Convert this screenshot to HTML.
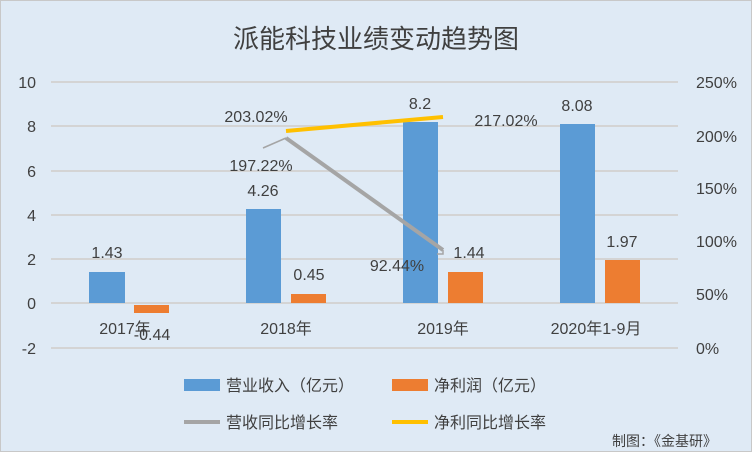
<!DOCTYPE html>
<html><head><meta charset="utf-8"><style>
body{margin:0;background:#fff}
svg{display:block}
text{font-family:"Liberation Sans","Noto Sans CJK SC",sans-serif;fill:#404040}
</style></head><body>
<svg width="752" height="452" viewBox="0 0 752 452">
<rect x="0.5" y="0.5" width="751" height="451" fill="#dfeaf5" stroke="#c8c8c8"/>
<text x="376" y="48" font-size="26" text-anchor="middle" fill="#595959">派能科技业绩变动趋势图</text>
<g stroke="#d4d4d4" stroke-width="2">
<line x1="51" y1="82" x2="678" y2="82"/><line x1="51" y1="126" x2="678" y2="126"/>
<line x1="51" y1="171" x2="678" y2="171"/><line x1="51" y1="215" x2="678" y2="215"/>
<line x1="51" y1="259" x2="678" y2="259"/><line x1="51" y1="303" x2="678" y2="303"/>
<line x1="51" y1="348" x2="678" y2="348"/>
</g>
<g font-size="16" text-anchor="end" fill="#595959">
<text x="36" y="88">10</text><text x="36" y="132">8</text><text x="36" y="177">6</text>
<text x="36" y="221">4</text><text x="36" y="265">2</text><text x="36" y="309">0</text><text x="36" y="354">-2</text>
</g>
<g font-size="16" text-anchor="start">
<text x="696" y="88">250%</text><text x="696" y="142">200%</text><text x="696" y="194">150%</text>
<text x="696" y="247">100%</text><text x="696" y="300">50%</text><text x="696" y="354">0%</text>
</g>
<g fill="#5b9bd5">
<rect x="89" y="272" width="36" height="31"/><rect x="246" y="209" width="35" height="94"/>
<rect x="403" y="122" width="35" height="181"/><rect x="560" y="124" width="35" height="179"/>
</g>
<g fill="#ed7d31">
<rect x="134" y="305" width="35" height="8"/><rect x="291" y="294" width="35" height="9"/>
<rect x="448" y="272" width="35" height="31"/><rect x="605" y="260" width="35" height="43"/>
</g>
<g font-size="16" text-anchor="middle">
<text x="107" y="258">1.43</text><text x="152" y="340">-0.44</text>
<text x="263" y="196">4.26</text><text x="309" y="280">0.45</text>
<text x="420" y="109">8.2</text><text x="469" y="258">1.44</text>
<text x="577" y="111">8.08</text><text x="622" y="247">1.97</text>
<text x="125" y="334">2017年</text><text x="286" y="334">2018年</text>
<text x="443" y="334">2019年</text><text x="596" y="334">2020年1-9月</text>
</g>
<line x1="286" y1="138" x2="443" y2="250" stroke="#a5a5a5" stroke-width="4"/>
<line x1="286" y1="131" x2="443" y2="117" stroke="#ffc000" stroke-width="4"/>
<polyline points="286,138 263,148" fill="none" stroke="#a5a5a5" stroke-width="1.5"/>
<polyline points="443,250 443,254 437,254" fill="none" stroke="#a5a5a5" stroke-width="1.5"/>
<g font-size="16" text-anchor="middle">
<text x="256" y="122">203.02%</text><text x="261" y="171">197.22%</text>
<text x="506" y="126">217.02%</text><text x="397" y="271">92.44%</text>
</g>
<rect x="184" y="379" width="36" height="12" fill="#5b9bd5"/>
<text x="226" y="391" font-size="16">营业收入（亿元）</text>
<rect x="392" y="379" width="36" height="12" fill="#ed7d31"/>
<text x="434" y="391" font-size="16">净利润（亿元）</text>
<line x1="184" y1="422" x2="220" y2="422" stroke="#a5a5a5" stroke-width="4"/>
<text x="226" y="428" font-size="16">营收同比增长率</text>
<line x1="392" y1="422" x2="428" y2="422" stroke="#ffc000" stroke-width="4"/>
<text x="434" y="428" font-size="16">净利同比增长率</text>
<text x="612" y="446" font-size="14" fill="#262626">制图：《金基研》</text>
</svg>
</body></html>
